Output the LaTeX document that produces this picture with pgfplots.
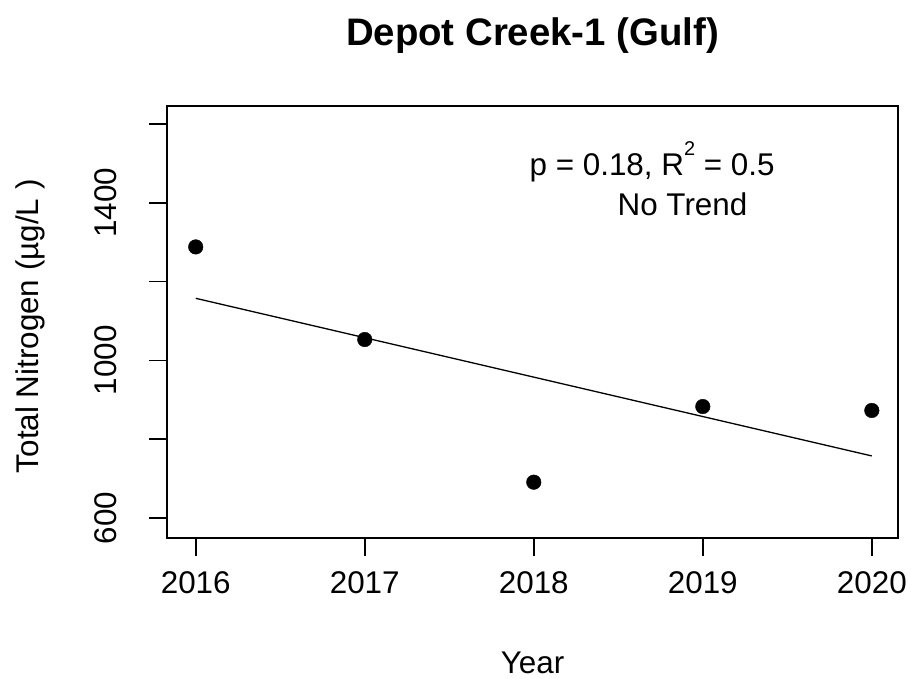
\documentclass[border=0pt]{standalone}
\usepackage{pgfplots}
\pgfplotsset{compat=1.18}
\usepackage{fontspec}
\setmainfont{Liberation Sans}
\begin{document}
\begin{tikzpicture}[x=1bp,y=1bp]
\useasboundingbox (-167,-141) rectangle (744,538);
\begin{axis}[
  at={(0,0)}, anchor=south west,
  scale only axis, width=731bp, height=432bp,
  xmin=2015.83, xmax=2020.155,
  ymin=549.4, ymax=1645.6,
  axis line style={line width=1.6bp},
  tick pos=left, tick align=outside,
  major tick length=18bp,
  every tick/.style={line width=1.6bp, black},
  xtick={2016,2017,2018,2019,2020},
  xticklabels={2016,2017,2018,2019,2020},
  ytick={600,800,1000,1200,1400,1600},
  yticklabels={600,,1000,,1400,},
  xticklabel style={font=\fontsize{31.5}{36}\selectfont, anchor=base, yshift=-37bp},
  yticklabel style={font=\fontsize{31.5}{36}\selectfont, xshift=-33bp, rotate=90, anchor=base},
  /pgf/number format/assume math mode=true,
  clip=false,
]
\addplot[only marks, mark=*, mark size=7.3bp, black] coordinates {
 (2016,1288) (2017,1053) (2018,691) (2019,883) (2020,873)
};
\addplot[black, line width=1.3bp] coordinates {
 (2016,1157.6) (2020,757.6)
};
\node[font=\fontsize{31.5}{36}\selectfont] at (axis cs:2018.7,1504) {p = 0.18, R\raisebox{1.2ex}{\fontsize{20}{22}\selectfont 2} = 0.5};
\node[font=\fontsize{31.5}{36}\selectfont] at (axis cs:2018.88,1395) {No Trend};
\node[font=\fontsize{31.5}{36}\selectfont] at (axis description cs:0.5,-0.289) {Year};
\node[font=\fontsize{31.5}{36}\selectfont, rotate=90] at (axis description cs:-0.187,0.49) {Total Nitrogen (µg/L )};
\node[font=\bfseries\fontsize{38.5}{44}\selectfont] at (axis description cs:0.5,1.164) {Depot Creek-1 (Gulf)};
\end{axis}
\end{tikzpicture}
\end{document}
